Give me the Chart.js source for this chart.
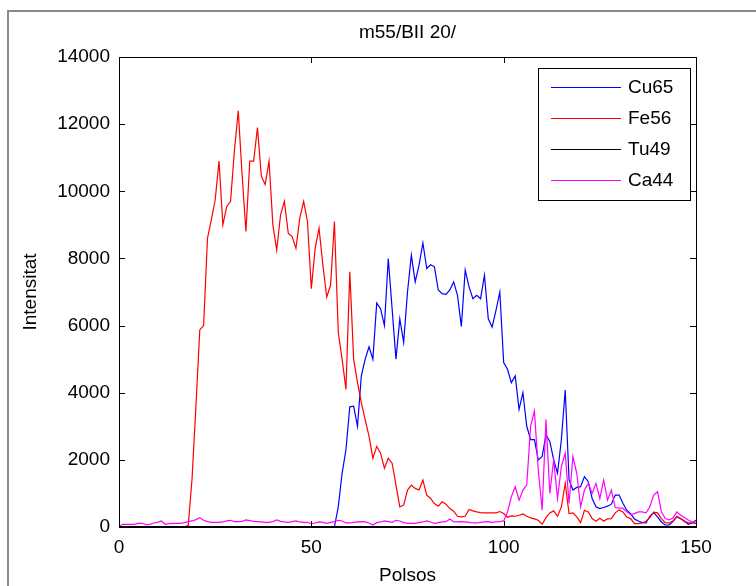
<!DOCTYPE html>
<html>
<head>
<meta charset="utf-8">
<script src="https://cdn.jsdelivr.net/npm/chart.js@4/dist/chart.umd.min.js"></script>
<style>
  html, body { margin: 0; padding: 0; background: #fff; }
  #wrap { width: 756px; height: 586px; position: relative; }
</style>
</head>
<body>
<div id="wrap"><canvas id="chart" width="756" height="586"></canvas></div>
<script>
// ---------- Dados ----------
const title = 'm55/BII 20/';
const xTitle = 'Polsos';
const yTitle = 'Intensitat';
const seriesNames = ['Cu65', 'Fe56', 'Tu49', 'Ca44'];
const seriesColors = ['#0000ff', '#ff0000', '#000000', '#ff00ff'];
const xTicks = [0, 50, 100, 150];
const yTicks = [0, 2000, 4000, 6000, 8000, 10000, 12000, 14000];

// pulse number of each sample (0..150)
const pulses = Array.from({ length: 151 }, (_, i) => i);

const cu65 = [
  0,0,0,0,0,0,0,0,0,0, 0,0,0,0,0,0,0,0,0,0,
  0,0,0,0,0,0,0,0,0,0, 0,0,0,0,0,0,0,0,0,0,
  0,0,0,0,0,0,0,0,0,0, 0,0,0,0,0,0,0,
  600,1600,2300,3580,3600,3000,4500,5000,5370,5000,
  6670,6500,6000,8000,6500,5000,6200,5500,7000,8100,
  7300,7800,8460,7700,7810,7750,7060,6950,6930,7060,
  7300,6900,5970,7650,7150,6800,6900,6800,7500,6200,
  5950,6450,7000,4900,4700,4300,4500,3500,4000,3000,
  2600,2600,2000,2100,2740,2550,2000,1600,2600,4080,
  1400,1100,1180,1200,1500,1350,850,600,550,580,
  620,680,950,950,710,500,400,240,180,130,
  120,320,430,300,150,60,60,160,310,250,
  180,80,120,200
];

const fe56 = [
  0,0,0,0,0,0,0,0,0,0, 0,0,0,0,0,0,0,0,
  50,1450,3600,5870,6000,8600,9150,9740,10900,9000,
  9540,9700,11200,12400,10500,8800,10900,10900,11900,10450,
  10200,10900,9000,8250,9300,9700,8750,8650,8300,9200,
  9700,9100,7100,8300,8900,7800,6850,7200,9100,5800,
  5000,4100,7600,5000,4300,3700,3200,2700,2050,2400,
  2200,1750,2050,1900,1250,600,650,1100,1250,1150,
  1100,1400,950,850,700,620,750,680,550,470,
  320,300,320,520,480,450,430,420,420,420,
  420,460,400,290,330,320,350,390,320,270,
  240,200,80,280,420,480,320,600,1300,400,
  420,300,130,500,450,250,170,260,180,240,
  250,420,510,450,300,250,100,100,120,170,
  280,440,420,250,130,120,180,300,250,160,
  130,120,100
];

const tu49 = [
  0,0,0,0,0,0,0,0,0,0, 0,0,0,0,0,0,0,0,0,0,
  0,0,0,0,0,0,0,0,0,0, 0,0,0,0,0,0,0,0,0,0,
  0,0,0,0,0,0,0,0,0,0, 0,0,0,0,0,0,0,0,0,0,
  0,0,0,0,0,0,0,0,0,0, 0,0,0,0,0,0,0,0,0,0,
  0,0,0,0,0,0,0,0,0,0, 0,0,0,0,0,0,0,0,0,0,
  0,0,0,0,0,0,0,0,0,0, 0,0,0,0,0,0,0,0,0,0,
  0,0,0,0,0,0,0,0,0,0, 0,0,0,0,0,0,0,0,0,0,
  0,0,0,0,0,0,0,0,0,0, 0
];

const ca44 = [
  30,80,80,80,80,110,110,70,80,120,
  140,180,80,100,110,110,110,130,160,180,
  220,280,200,160,140,140,140,150,180,200,
  160,160,170,210,190,170,160,150,140,140,
  160,210,170,150,140,160,180,150,140,140,
  90,120,150,140,110,140,160,200,180,120,
  120,140,150,160,150,120,60,130,150,180,
  160,140,200,180,130,110,110,110,130,150,
  180,150,110,130,150,160,240,150,150,160,
  150,140,120,120,140,150,160,140,150,160,
  180,450,900,1200,800,1100,1250,3000,3450,1700,
  500,3200,1000,2000,850,1800,2200,700,2100,1600,
  600,1100,1300,1000,1300,850,1400,800,1100,580,
  560,560,450,370,400,450,450,420,600,950,
  1050,450,250,210,270,450,350,280,210,150,
  120
];

const seriesData = [cu65, fe56, tu49, ca44];

// ---------- Layout ----------
const FONT = '"Liberation Sans", Arial, sans-serif';
const FONT_SIZE = 19;

// ---------- Plugin estilo MATLAB ----------
const matlabFrame = {
  id: 'matlabFrame',
  beforeDraw(chart) {
    const ctx = chart.ctx;
    ctx.save();
    ctx.fillStyle = '#ffffff';
    ctx.fillRect(0, 0, chart.width, chart.height);
    // figure border
    ctx.strokeStyle = '#8a8a8a';
    ctx.lineWidth = 2;
    ctx.beginPath();
    ctx.moveTo(8, chart.height);
    ctx.lineTo(8, 11);
    ctx.lineTo(chart.width, 11);
    ctx.stroke();
    ctx.restore();
  },
  afterDraw(chart) {
    const ctx = chart.ctx;
    const a = chart.chartArea;
    const xs = chart.scales.x, ys = chart.scales.y;
    ctx.save();
    ctx.strokeStyle = '#000';
    ctx.lineWidth = 1;
    ctx.strokeRect(Math.round(a.left) + 0.5, Math.round(a.top) + 0.5,
      Math.round(a.right - a.left), Math.round(a.bottom - a.top));

    const tl = 6;
    ctx.beginPath();
    xTicks.forEach(v => {
      const px = Math.round(xs.getPixelForValue(v)) + 0.5;
      ctx.moveTo(px, a.bottom); ctx.lineTo(px, a.bottom - tl);
      ctx.moveTo(px, a.top); ctx.lineTo(px, a.top + tl);
    });
    yTicks.forEach(v => {
      const py = Math.round(ys.getPixelForValue(v)) + 0.5;
      ctx.moveTo(a.left, py); ctx.lineTo(a.left + tl, py);
      ctx.moveTo(a.right, py); ctx.lineTo(a.right - tl, py);
    });
    ctx.stroke();

    // titles
    ctx.fillStyle = '#000';
    ctx.font = FONT_SIZE + 'px ' + FONT;
    ctx.textAlign = 'center';
    ctx.textBaseline = 'middle';
    ctx.fillText(title, (a.left + a.right) / 2, 33);
    ctx.fillText(xTitle, (a.left + a.right) / 2, 576);
    ctx.save();
    ctx.translate(31, (a.top + a.bottom) / 2);
    ctx.rotate(-Math.PI / 2);
    ctx.fillText(yTitle, 0, 0);
    ctx.restore();

    // legend
    const lx = 538.5, ly = 68.5, lw = 152, lh = 132;
    ctx.fillStyle = '#fff';
    ctx.fillRect(lx, ly, lw, lh);
    ctx.strokeStyle = '#000';
    ctx.strokeRect(lx, ly, lw, lh);
    ctx.textAlign = 'left';
    seriesNames.forEach((name, i) => {
      const y = 87 + i * 31;
      ctx.strokeStyle = seriesColors[i];
      ctx.beginPath();
      ctx.moveTo(551, y + 0.5);
      ctx.lineTo(621, y + 0.5);
      ctx.stroke();
      ctx.fillStyle = '#000';
      ctx.fillText(name, 628, y + 1);
    });
    ctx.restore();
  }
};

// ---------- Gráfico ----------
const ctx = document.getElementById('chart').getContext('2d');
new Chart(ctx, {
  type: 'line',
  data: {
    datasets: seriesNames.map((name, i) => ({
      label: name,
      data: seriesData[i].map((v, j) => ({ x: pulses[j], y: v })),
      borderColor: seriesColors[i],
      borderWidth: i === 2 ? 2 : 1.2,
      pointRadius: 0,
      tension: 0,
      fill: false,
      clip: 3,
      order: seriesNames.length - i
    }))
  },
  options: {
    responsive: false,
    animation: false,
    events: [],
    layout: { padding: { left: 0, top: 57, right: 60, bottom: 0 } },
    plugins: { legend: { display: false }, tooltip: { enabled: false }, title: { display: false } },
    scales: {
      x: {
        type: 'linear', min: 0, max: 150,
        afterFit: s => { s.height = 59; },
        afterBuildTicks: s => { s.ticks = xTicks.map(v => ({ value: v })); },
        grid: { display: false, drawTicks: false },
        border: { display: false },
        ticks: { color: '#000', padding: 9, maxRotation: 0, callback: v => String(v),
          font: { family: FONT, size: FONT_SIZE } }
      },
      y: {
        min: 0, max: 14000,
        afterFit: s => { s.width = 119; },
        afterBuildTicks: s => { s.ticks = yTicks.map(v => ({ value: v })); },
        grid: { display: false, drawTicks: false },
        border: { display: false },
        ticks: { color: '#000', padding: 9, callback: v => String(v),
          font: { family: FONT, size: FONT_SIZE } }
      }
    }
  },
  plugins: [matlabFrame]
});
</script>
</body>
</html>
